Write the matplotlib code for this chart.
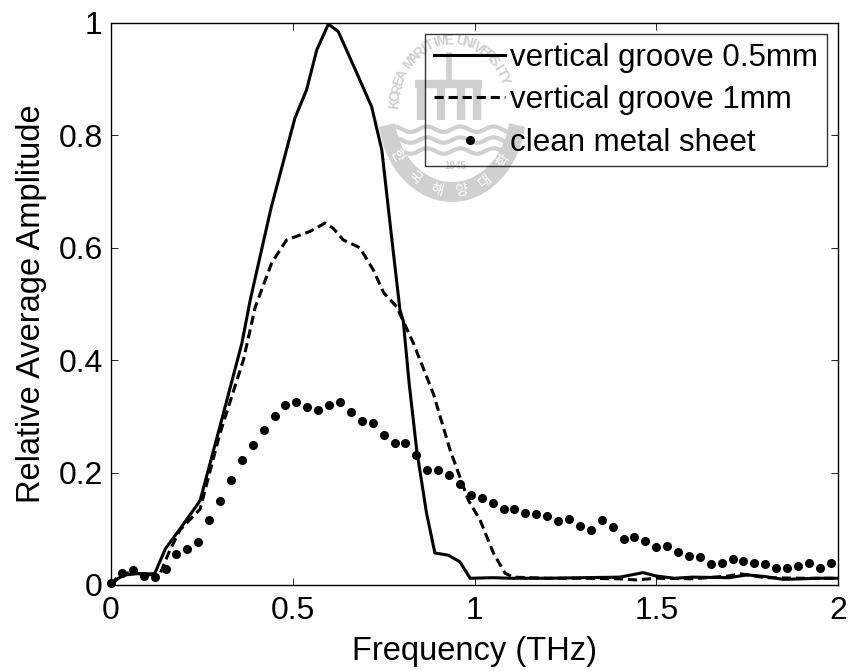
import numpy as np
import matplotlib
matplotlib.use("Agg")
import matplotlib.pyplot as plt
from matplotlib.patches import Wedge

plt.rcParams['font.family'] = ['Liberation Sans', 'DejaVu Sans']

# --- data ---
# vertical groove 0.5mm (solid)
f_05 = [0, 0.02, 0.04, 0.07, 0.10, 0.12, 0.15, 0.19, 0.245, 0.30, 0.36, 0.383, 0.44,
        0.506, 0.538, 0.566, 0.598, 0.625, 0.67, 0.717, 0.745, 0.77, 0.795, 0.804,
        0.82, 0.841, 0.868, 0.891, 0.928, 0.96, 0.988, 1.05, 1.1, 1.2, 1.3, 1.4,
        1.464, 1.5, 1.55, 1.6, 1.7, 1.75, 1.8, 1.85, 1.9, 1.95, 2.0]
a_05 = [0, 0.012, 0.018, 0.02, 0.02, 0.02, 0.065, 0.10, 0.15, 0.283, 0.43, 0.507, 0.67,
        0.831, 0.881, 0.952, 0.998, 0.985, 0.92, 0.851, 0.774, 0.63, 0.489, 0.47,
        0.36, 0.24, 0.128, 0.057, 0.053, 0.041, 0.012, 0.013, 0.012, 0.012, 0.013, 0.014,
        0.022, 0.016, 0.012, 0.014, 0.013, 0.018, 0.015, 0.01, 0.011, 0.012, 0.012]

# vertical groove 1mm (dashed)
f_1 = [0, 0.025, 0.06, 0.10, 0.135, 0.162, 0.19, 0.245, 0.30, 0.364, 0.397, 0.442,
       0.483, 0.547, 0.589, 0.611, 0.639, 0.685, 0.722, 0.75, 0.786, 0.832, 0.887,
       0.933, 0.983, 1.015, 1.052, 1.084, 1.106, 1.2, 1.3, 1.4, 1.446, 1.5, 1.6, 1.7,
       1.73, 1.8, 1.9, 2.0]
a_1 = [0, 0.02, 0.022, 0.018, 0.02, 0.062, 0.098, 0.135, 0.27, 0.40, 0.495, 0.573,
       0.614, 0.629, 0.644, 0.635, 0.614, 0.60, 0.56, 0.52, 0.495, 0.43, 0.34,
       0.24, 0.151, 0.116, 0.057, 0.021, 0.014, 0.012, 0.012, 0.011, 0.009, 0.012, 0.011, 0.016,
       0.02, 0.013, 0.012, 0.012]

# clean metal sheet (dots)
f_clean = [0.00, 0.03, 0.06, 0.09, 0.12, 0.15, 0.18, 0.21, 0.24, 0.27, 0.30, 0.33,
           0.36, 0.39, 0.42, 0.45, 0.48, 0.51, 0.54, 0.57, 0.60, 0.63, 0.66, 0.69,
           0.72, 0.75, 0.78, 0.81, 0.84, 0.87, 0.90, 0.93, 0.96, 0.99, 1.02, 1.05,
           1.08, 1.11, 1.14, 1.17, 1.20, 1.23, 1.26, 1.29, 1.32, 1.35, 1.38, 1.41,
           1.44, 1.47, 1.50, 1.53, 1.56, 1.59, 1.62, 1.65, 1.68, 1.71, 1.74, 1.77,
           1.80, 1.83, 1.86, 1.89, 1.92, 1.95, 1.98]
a_clean = [0.003, 0.022, 0.027, 0.016, 0.014, 0.028, 0.055, 0.064, 0.077, 0.115, 0.150, 0.187,
           0.222, 0.249, 0.276, 0.300, 0.320, 0.326, 0.317, 0.311, 0.320, 0.326, 0.308, 0.291,
           0.288, 0.267, 0.252, 0.252, 0.231, 0.205, 0.205, 0.196, 0.18, 0.16, 0.155, 0.146,
           0.136, 0.135, 0.129, 0.126, 0.123, 0.114, 0.117, 0.105, 0.097, 0.116, 0.104, 0.082,
           0.085, 0.079, 0.067, 0.070, 0.058, 0.052, 0.049, 0.037, 0.040, 0.046, 0.043, 0.040,
           0.037, 0.031, 0.031, 0.034, 0.039, 0.031, 0.039]

labels = ['vertical groove 0.5mm', 'vertical groove 1mm', 'clean metal sheet']
xticks = [0, 0.5, 1, 1.5, 2]
yticks = [0, 0.2, 0.4, 0.6, 0.8, 1]

W, H = 850, 671
fig = plt.figure(figsize=(W / 100, H / 100), dpi=100)

# faint university seal watermark, behind the plot
grey = '#d0d0d0'
wm = fig.add_axes([378 / W, 1 - 202 / H, 148 / W, 182 / H], zorder=0)
wm.set_xlim(-1, 1)
wm.set_ylim(-1, 1)
wm.axis('off')
rx, ry = 74, 91
top = 'KOREA MARITIME UNIVERSITY'
for ch, t in zip(top, np.radians(np.linspace(174, 26, len(top)))):
    rot = np.degrees(np.arctan2(-ry * np.cos(t), rx * np.sin(t)))
    wm.text(0.78 * np.cos(t), 0.78 * np.sin(t), ch, rotation=rot, fontsize=10,
            fontweight='bold', color=grey, ha='center', va='center')
wm.add_patch(Wedge((0, 0), 1.0, 190, 350, width=0.22, color=grey, lw=0))
bottom = '한국해양대학'
for ch, t in zip(bottom, np.radians(np.linspace(213, 322, len(bottom)))):
    rot = np.degrees(np.arctan2(ry * np.cos(t), -rx * np.sin(t)))
    wm.text(0.89 * np.cos(t), 0.89 * np.sin(t), ch, rotation=rot, fontsize=10,
            color='white', ha='center', va='center',
            family=['Noto Sans CJK KR', 'DejaVu Sans'])
# gate shape and waves in the middle
wm.plot([-0.5, 0.4], [0.3, 0.3], color=grey, lw=6, solid_capstyle='butt')
for px in [-0.42, -0.15, 0.12, 0.34]:
    wm.plot([px, px], [-0.1, 0.3], color=grey, lw=6, solid_capstyle='butt')
wm.plot([-0.04, -0.04], [0.3, 0.62], color=grey, lw=4)
wx = np.linspace(-0.74, 0.74, 60)
for yy in [-0.2, -0.32, -0.44]:
    wm.plot(wx, yy + 0.03 * np.sin(wx * 14), color=grey, lw=3)
wm.text(0.05, -0.6, '1945', fontsize=7, fontweight='bold', color=grey,
        ha='center', va='center')

# main axes
ax = fig.add_axes([111 / W, 1 - 585 / H, 727 / W, 562 / H], zorder=1)
ax.patch.set_alpha(0)

ax.plot(f_05, a_05, color='k', lw=2.2, label=labels[0])
ax.plot(f_1, a_1, color='k', lw=2.2, ls=(0, (3, 1.6)), label=labels[1])
ax.plot(f_clean, a_clean, 'k.', ls='none', ms=11, clip_on=False, label=labels[2])

ax.set_xlim(0, 2)
ax.set_ylim(0, 1)
ax.set_xticks(xticks)
ax.set_xticklabels(['0', '0.5', '1', '1.5', '2'])
ax.set_yticks(yticks)
ax.set_yticklabels(['0', '0.2', '0.4', '0.6', '0.8', '1'])
ax.tick_params(direction='in', top=True, right=True, length=5, width=0.6,
               labelsize=23, pad=8)
ax.tick_params(axis='y', pad=6)
for s in ax.spines.values():
    s.set_linewidth(1.0)

ax.set_xlabel('Frequency (THz)', fontsize=23.5, labelpad=7)
ax.set_ylabel('Relative Average Amplitude', fontsize=23.5, labelpad=8)

leg = ax.legend(loc='upper right', fontsize=22.5, frameon=True, fancybox=False,
                edgecolor='k', facecolor='none', handlelength=2.3, handletextpad=0.16,
                labelspacing=0.4, borderpad=0.28, borderaxespad=0.35, numpoints=1)
leg.get_frame().set_linewidth(1.0)

fig.savefig('out.png', dpi=100)
